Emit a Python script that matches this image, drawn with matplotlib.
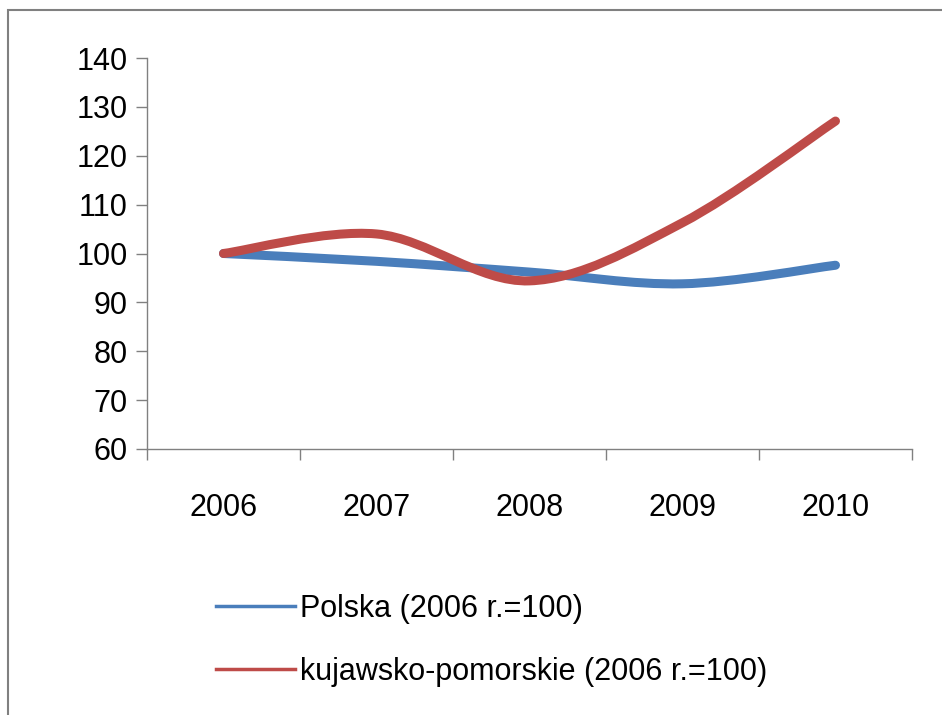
import matplotlib
matplotlib.use("Agg")
import matplotlib.pyplot as plt
from matplotlib.path import Path
from matplotlib.patches import PathPatch, Rectangle
from matplotlib.lines import Line2D

years = ["2006", "2007", "2008", "2009", "2010"]
polska = [100, 98.4, 96.2, 93.8, 97.6]
kujawsko = [100, 104.0, 94.4, 106.3, 127.1]
labels = ["Polska (2006 r.=100)", "kujawsko-pomorskie (2006 r.=100)"]
colors = ["#4a7ebb", "#be4b48"]

plt.rc("font", family=["Liberation Sans", "DejaVu Sans"], size=22)


def smooth_path(xs, ys):
    # excel-style smoothed line: bezier segments with catmull-rom control points
    verts = [(xs[0], ys[0])]
    codes = [Path.MOVETO]
    n = len(xs)
    for i in range(n - 1):
        x0, y0 = xs[max(i - 1, 0)], ys[max(i - 1, 0)]
        x1, y1 = xs[i], ys[i]
        x2, y2 = xs[i + 1], ys[i + 1]
        x3, y3 = xs[min(i + 2, n - 1)], ys[min(i + 2, n - 1)]
        c1 = (x1 + (x2 - x0) / 6, y1 + (y2 - y0) / 6)
        c2 = (x2 - (x3 - x1) / 6, y2 - (y3 - y1) / 6)
        verts += [c1, c2, (x2, y2)]
        codes += [Path.CURVE4] * 3
    return Path(verts, codes)


fig = plt.figure(figsize=[9.42, 7.15], dpi=100)
fig.patches.append(Rectangle((8 / 942, -0.1), 1.2, 1 - 10 / 715 + 0.1,
                             transform=fig.transFigure, fill=False,
                             edgecolor="#808080", linewidth=1.5))
ax = fig.add_axes([147 / 942, 1 - 449 / 715, (912 - 147) / 942, (449 - 58) / 715])

xs = list(range(len(years)))
for series, c in [(polska, colors[0]), (kujawsko, colors[1])]:
    ax.add_patch(PathPatch(smooth_path(xs, series), facecolor="none",
                           edgecolor=c, linewidth=6.5, capstyle="round",
                           joinstyle="round"))

ax.set_xlim(-0.5, 4.5)
ax.set_ylim(60, 140)
ax.set_yticks(range(60, 141, 10))
ax.set_xticks([i - 0.5 for i in range(len(years) + 1)])
ax.set_xticklabels([])
ax.set_xticks(xs, minor=True)
ax.set_xticklabels(years, minor=True)
ax.tick_params(axis="x", which="major", direction="out", length=8,
               color="#808080", width=1)
ax.tick_params(axis="x", which="minor", length=0, pad=32)
ax.tick_params(axis="y", direction="out", length=8, color="#808080",
               width=1, pad=6)
for s in ["top", "right"]:
    ax.spines[s].set_visible(False)
for s in ["left", "bottom"]:
    ax.spines[s].set_color("#808080")
    ax.spines[s].set_linewidth(1)

handles = [Line2D([], [], color=c, linewidth=2.5) for c in colors]
fig.legend(handles, labels, loc="upper left", bbox_to_anchor=(188 / 942, 1 - 566 / 715),
           frameon=False, handlelength=2.6, handletextpad=0.15,
           labelspacing=1.1, fontsize=22)

fig.savefig("out.png", dpi=100)
